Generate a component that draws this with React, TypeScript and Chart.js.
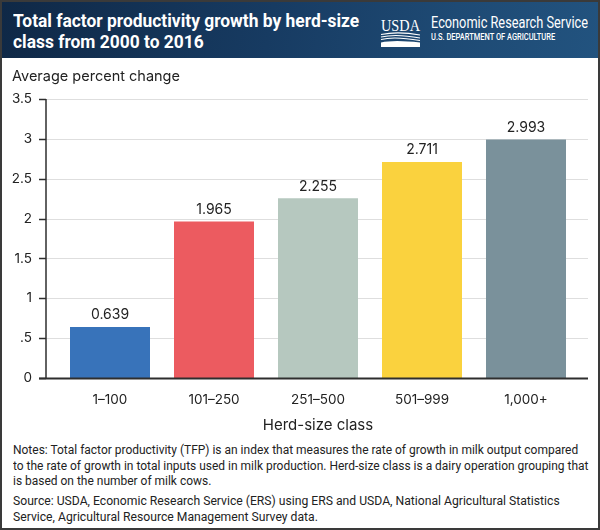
import React, { useEffect, useLayoutEffect, useRef, useState } from 'react';
import { Chart, registerables } from 'chart.js';

Chart.register(...registerables);

const categories = ['1–100', '101–250', '251–500', '501–999', '1,000+'];
const values = [0.639, 1.965, 2.255, 2.711, 2.993];
const barColors = ['#3873ba', '#ec5b60', '#b6c8bf', '#fad23e', '#7a919b'];
const yTickLabels = ['0', '.5', '1', '1.5', '2', '2.5', '3', '3.5'];

const titleLines = ['Total factor productivity growth by herd-size', 'class from 2000 to 2016'];
const notesLines = [
  'Notes: Total factor productivity (TFP) is an index that measures the rate of growth in milk output compared',
  'to the rate of growth in total inputs used in milk production. Herd-size class is a dairy operation grouping that',
  'is based on the number of milk cows.',
];
const sourceLines = [
  'Source: USDA, Economic Research Service (ERS) using ERS and USDA, National Agricultural Statistics',
  'Service, Agricultural Resource Management Survey data.',
];

const CHART_FONT = 'Inter, Roboto, sans-serif';
const NOTE_FONT = 'Roboto, sans-serif';

type FitProps = {
  lines: string[];
  target: number;
  left: number;
  top: number;
  style: React.CSSProperties;
};

function FitBlock({ lines, target, left, top, style }: FitProps) {
  const ref = useRef<HTMLSpanElement>(null);
  const [scale, setScale] = useState(1);
  useLayoutEffect(() => {
    const measure = () => {
      if (ref.current) {
        const w = ref.current.offsetWidth;
        if (w > 0) setScale(target / w);
      }
    };
    measure();
    if ((document as any).fonts && (document as any).fonts.ready) {
      (document as any).fonts.ready.then(measure);
    }
  }, [target]);
  return (
    <div
      style={{
        position: 'absolute',
        left,
        top,
        whiteSpace: 'nowrap',
        transformOrigin: '0 0',
        transform: `scaleX(${scale})`,
        ...style,
      }}
    >
      {lines.map((l, i) => (
        <div key={i}>
          <span ref={i === 0 ? ref : undefined} style={{ display: 'inline-block' }}>
            {l}
          </span>
        </div>
      ))}
    </div>
  );
}

function UsdaLogo() {
  return (
    <svg
      width={44}
      height={36}
      viewBox="0 0 44 36"
      style={{ position: 'absolute', left: 380, top: 13 }}
    >
      <text
        x={1}
        y={18}
        fill="#ffffff"
        fontFamily="'Liberation Serif', 'DejaVu Serif', serif"
        fontSize={17}
        textLength={39}
        lengthAdjust="spacingAndGlyphs"
      >
        USDA
      </text>
      <path d="M1 21.5 Q 18 18 40 22" stroke="#fff" strokeWidth={1.1} fill="none" />
      <path d="M1 24 Q 16 20.5 40 25" stroke="#fff" strokeWidth={1.1} fill="none" />
      <path d="M1 26.5 Q 14 23 40 27.5" stroke="#fff" strokeWidth={1.1} fill="none" />
      <path d="M1 29.5 Q 14 26.5 40 29.5 L40 34 L1 34 Z" fill="#fff" />
    </svg>
  );
}

function BarChart() {
  const canvasRef = useRef<HTMLCanvasElement>(null);
  useEffect(() => {
    if (!canvasRef.current) return;

    const gridPlugin = {
      id: 'customGrid',
      beforeDatasetsDraw(chart: any) {
        const { ctx, chartArea } = chart;
        const y = chart.scales.y;
        const axisX = chartArea.left - 12;
        const rightX = chartArea.right + 10;
        ctx.save();
        ctx.strokeStyle = '#dedede';
        ctx.lineWidth = 1;
        y.ticks.forEach((t: any) => {
          if (t.value === 0) return;
          const py = Math.round(y.getPixelForValue(t.value)) + 0.5;
          ctx.beginPath();
          ctx.moveTo(axisX, py);
          ctx.lineTo(rightX, py);
          ctx.stroke();
        });
        ctx.restore();
      },
      afterDatasetsDraw(chart: any) {
        const { ctx, chartArea } = chart;
        const y = chart.scales.y;
        const axisX = chartArea.left - 12;
        const rightX = chartArea.right + 10;
        ctx.save();
        ctx.strokeStyle = '#2e2e2e';
        ctx.lineWidth = 1.5;
        ctx.beginPath();
        ctx.moveTo(axisX, chartArea.top);
        ctx.lineTo(axisX, chartArea.bottom);
        ctx.stroke();
        y.ticks.forEach((t: any) => {
          const py = Math.round(y.getPixelForValue(t.value)) + 0.5;
          ctx.beginPath();
          ctx.moveTo(axisX - 7, py);
          ctx.lineTo(axisX, py);
          ctx.stroke();
        });
        const by = Math.round(chartArea.bottom) + 0.5;
        ctx.lineWidth = 2;
        ctx.beginPath();
        ctx.moveTo(axisX - 7, by);
        ctx.lineTo(rightX, by);
        ctx.stroke();

        const meta = chart.getDatasetMeta(0);
        ctx.fillStyle = '#222222';
        ctx.font = `14px ${CHART_FONT}`;
        ctx.textAlign = 'center';
        ctx.textBaseline = 'bottom';
        meta.data.forEach((bar: any, i: number) => {
          ctx.fillText(values[i].toFixed(3), bar.x, bar.y - 5);
        });
        ctx.restore();
      },
    };

    const chart = new Chart(canvasRef.current, {
      type: 'bar',
      data: {
        labels: categories,
        datasets: [
          {
            data: values,
            backgroundColor: barColors,
            borderWidth: 0,
            barPercentage: 80 / 104,
            categoryPercentage: 1,
          },
        ],
      },
      options: {
        animation: false,
        responsive: false,
        maintainAspectRatio: false,
        layout: { padding: { top: 13, right: 22, left: 0, bottom: 0 } },
        plugins: {
          legend: { display: false },
          tooltip: { enabled: false },
        },
        scales: {
          x: {
            grid: { display: false, drawTicks: false },
            border: { display: false },
            ticks: {
              font: { family: CHART_FONT, size: 13.5 },
              color: '#222222',
              padding: 14,
              maxRotation: 0,
              autoSkip: false,
            },
            title: {
              display: true,
              text: 'Herd-size class',
              font: { family: CHART_FONT, size: 15 },
              color: '#222222',
              padding: { top: 0, bottom: 6 },
            },
            afterFit: (s: any) => {
              s.height = 62;
            },
          },
          y: {
            min: 0,
            max: 3.5,
            grid: { display: false, drawTicks: false },
            border: { display: false },
            ticks: {
              stepSize: 0.5,
              font: { family: CHART_FONT, size: 13.5 },
              color: '#222222',
              padding: 26,
              callback: (_v: any, i: number) => yTickLabels[i],
            },
            afterFit: (s: any) => {
              s.width = 58;
            },
          },
        },
      },
      plugins: [gridPlugin],
    } as any);
    return () => chart.destroy();
  }, []);
  return (
    <canvas
      ref={canvasRef}
      width={600}
      height={375}
      style={{ position: 'absolute', left: 0, top: 65, width: 600, height: 375 }}
    />
  );
}

export default function App() {
  return (
    <div
      style={{
        position: 'absolute',
        left: 0,
        top: 0,
        width: 600,
        height: 530,
        background: '#ffffff',
        overflow: 'hidden',
      }}
    >
      <div
        style={{
          position: 'absolute',
          left: 0,
          top: 0,
          width: 600,
          height: 58,
          background: 'linear-gradient(100deg, #0f2846 0%, #173b62 45%, #1e4a74 75%, #22537f 100%)',
        }}
      />
      <FitBlock
        lines={titleLines}
        target={346}
        left={13}
        top={10}
        style={{
          color: '#ffffff',
          fontFamily: NOTE_FONT,
          fontWeight: 700,
          fontSize: 18,
          lineHeight: '21px',
        }}
      />
      <UsdaLogo />
      <FitBlock
        lines={['Economic Research Service']}
        target={157}
        left={431}
        top={13}
        style={{ color: '#ffffff', fontFamily: NOTE_FONT, fontSize: 16, lineHeight: '20px' }}
      />
      <FitBlock
        lines={['U.S. DEPARTMENT OF AGRICULTURE']}
        target={124}
        left={431}
        top={32}
        style={{
          color: '#ffffff',
          fontFamily: NOTE_FONT,
          fontWeight: 500,
          fontSize: 8.5,
          lineHeight: '10px',
        }}
      />
      <BarChart />
      <div
        style={{
          position: 'absolute',
          left: 12,
          top: 66,
          fontFamily: CHART_FONT,
          fontSize: 14.5,
          lineHeight: '20px',
          color: '#222222',
          whiteSpace: 'nowrap',
        }}
      >
        Average percent change
      </div>
      <FitBlock
        lines={notesLines}
        target={565}
        left={13}
        top={442}
        style={{ color: '#222222', fontFamily: NOTE_FONT, fontSize: 12.5, lineHeight: '15.5px' }}
      />
      <FitBlock
        lines={sourceLines}
        target={547}
        left={13}
        top={493}
        style={{ color: '#222222', fontFamily: NOTE_FONT, fontSize: 12.5, lineHeight: '15.5px' }}
      />
      <div
        style={{
          position: 'absolute',
          left: 0,
          top: 0,
          width: 600,
          height: 530,
          boxSizing: 'border-box',
          border: '2px solid #3a3a3a',
          pointerEvents: 'none',
        }}
      />
    </div>
  );
}
